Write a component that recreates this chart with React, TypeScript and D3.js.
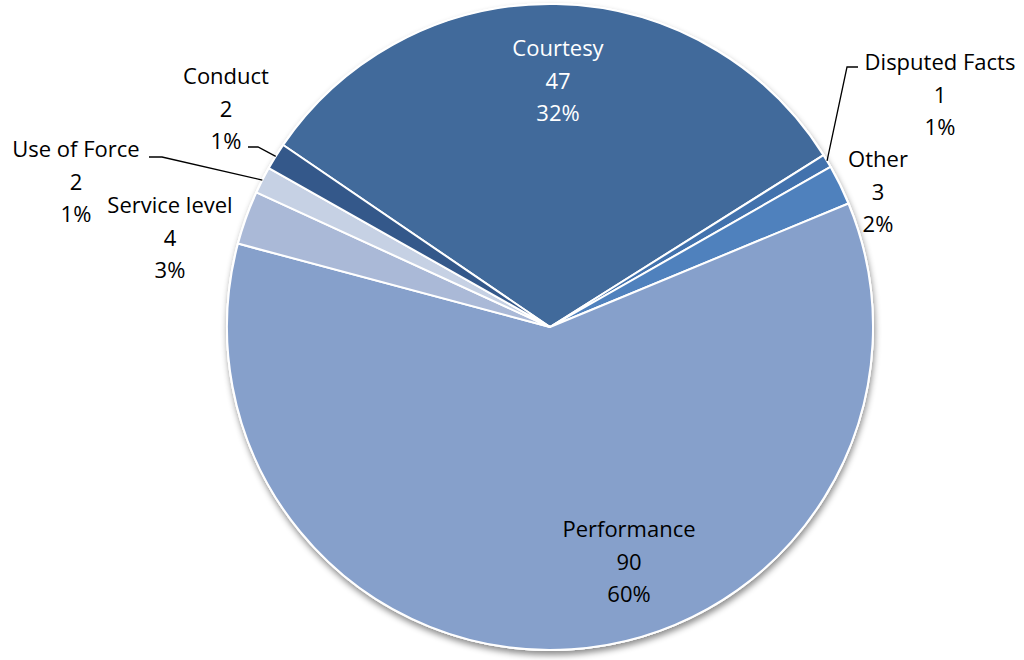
import React from "react";
import * as d3 from "d3";

const categories = ["Courtesy", "Disputed Facts", "Other", "Performance", "Service level", "Use of Force", "Conduct"];
const values = [47, 1, 3, 90, 4, 2, 2];
const colors = ["#416a9b", "#4272ad", "#4f81bd", "#86a0cb", "#aab9d7", "#c6d1e4", "#34588a"];

const W = 1024, H = 660;
const cx = 550, cy = 327, R = 323;
const startDeg = -55.7;

type LabelLayout = { x: number; y: number; color: string; leader?: [number, number][] };
const layout: Record<string, LabelLayout> = {
  "Courtesy": { x: 558, y: 47, color: "#ffffff" },
  "Performance": { x: 629, y: 528, color: "#000000" },
  "Conduct": { x: 226, y: 75, color: "#000000", leader: [[248, 147], [258, 147]] },
  "Use of Force": { x: 76, y: 148, color: "#000000", leader: [[149, 157], [162, 157]] },
  "Service level": { x: 170, y: 204, color: "#000000" },
  "Disputed Facts": { x: 940, y: 61, color: "#000000", leader: [[858, 67], [847, 67]] },
  "Other": { x: 878, y: 158, color: "#000000" },
};

export default function App() {
  const total = d3.sum(values);
  const start = (startDeg * Math.PI) / 180;
  const pie = d3.pie<number>().sort(null).startAngle(start).endAngle(start + 2 * Math.PI);
  const arcs = pie(values);
  const arcGen = d3.arc<d3.PieArcDatum<number>>().innerRadius(0).outerRadius(R);
  const lineH = 32.5;

  return (
    <svg width={W} height={H} style={{ position: "absolute", left: 0, top: 0, background: "#fff" }}>
      <defs>
        <filter id="sh" x="-10%" y="-10%" width="120%" height="120%">
          <feDropShadow dx="1" dy="4" stdDeviation="3" floodColor="#000" floodOpacity="0.45" />
        </filter>
      </defs>
      <circle cx={cx} cy={cy} r={R + 1} fill="#fff" filter="url(#sh)" />
      <g transform={`translate(${cx},${cy})`}>
        {arcs.map((a, i) => (
          <path key={i} d={arcGen(a) || ""} fill={colors[i]} stroke="#fff" strokeWidth={2} strokeLinejoin="round" />
        ))}
      </g>
      {arcs.map((a, i) => {
        const name = categories[i];
        const L = layout[name];
        const mid = (a.startAngle + a.endAngle) / 2;
        const px = cx + R * Math.sin(mid);
        const py = cy - R * Math.cos(mid);
        const pct = Math.round((values[i] / total) * 100) + "%";
        const lines = [name, String(values[i]), pct];
        return (
          <g key={name}>
            {L.leader && (
              <polyline
                points={[...L.leader, [px, py]].map((p) => p.join(",")).join(" ")}
                fill="none"
                stroke="#000"
                strokeWidth={1.3}
              />
            )}
            {lines.map((t, j) => (
              <text
                key={j}
                x={L.x}
                y={L.y + j * lineH}
                textAnchor="middle"
                dominantBaseline="central"
                fontFamily="'Open Sans', Lato, sans-serif"
                fontSize={22}
                fill={L.color}
              >
                {t}
              </text>
            ))}
          </g>
        );
      })}
    </svg>
  );
}
